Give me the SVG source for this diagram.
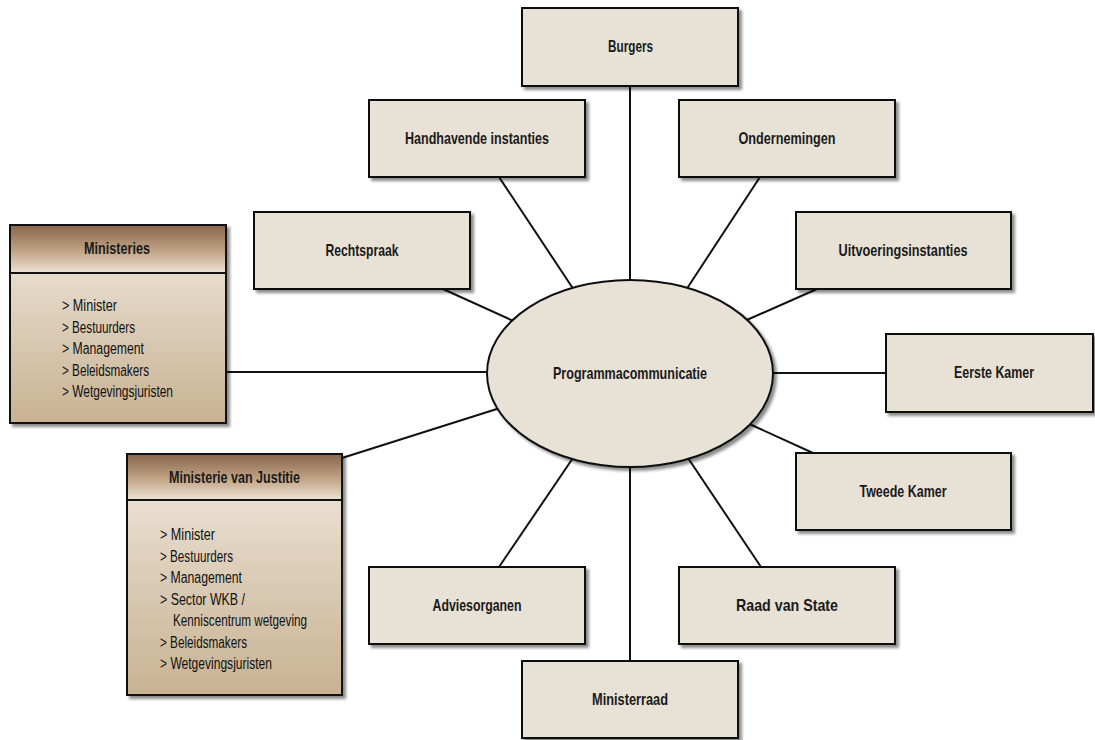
<svg xmlns="http://www.w3.org/2000/svg" width="1095" height="740" viewBox="0 0 1095 740">
<defs>
<filter id="sh" x="-10%" y="-10%" width="125%" height="130%">
<feDropShadow dx="3" dy="3" stdDeviation="1.8" flood-color="#000" flood-opacity="0.45"/>
</filter>
<linearGradient id="hdr" x1="0" y1="0" x2="0" y2="1">
<stop offset="0" stop-color="#87654A"/>
<stop offset="0.55" stop-color="#C2A587"/>
<stop offset="1" stop-color="#EEE3D4"/>
</linearGradient>
<linearGradient id="body" x1="0" y1="0" x2="0" y2="1">
<stop offset="0" stop-color="#F0EAE1"/>
<stop offset="0.35" stop-color="#E2D5C3"/>
<stop offset="1" stop-color="#C8B292"/>
</linearGradient>
</defs>
<style>
.box{fill:#E8E1D6;stroke:#111;stroke-width:2;filter:url(#sh)}
.ell{fill:#E8E1D6;stroke:#111;stroke-width:2;filter:url(#sh)}
.ln{stroke:#111;stroke-width:2;fill:none}
.lbl{font-family:"Liberation Sans",Arial,sans-serif;font-weight:bold;font-size:17px;fill:#1a1a1a;text-anchor:middle}
.item{font-family:"Liberation Sans",Arial,sans-serif;font-size:16px;fill:#111}
.sep{stroke:#111;stroke-width:2}
</style>
<rect width="1095" height="740" fill="#fff"/>
<g id="connectors">
<line class="ln" x1="630" y1="86" x2="630" y2="290"/>
<line class="ln" x1="499" y1="177" x2="574" y2="290"/>
<line class="ln" x1="760" y1="177" x2="686" y2="290"/>
<line class="ln" x1="443" y1="289" x2="520" y2="324"/>
<line class="ln" x1="817" y1="289" x2="740" y2="323"/>
<line class="ln" x1="765" y1="373" x2="886" y2="373"/>
<line class="ln" x1="745" y1="422" x2="813" y2="453"/>
<line class="ln" x1="686" y1="455" x2="761" y2="567"/>
<line class="ln" x1="630" y1="460" x2="630" y2="661"/>
<line class="ln" x1="575" y1="455" x2="499" y2="567"/>
<line class="ln" x1="500" y1="408" x2="342" y2="458"/>
<line class="ln" x1="226" y1="372" x2="495" y2="372"/>
</g>
<g id="center">
<ellipse class="ell" cx="630" cy="373.5" rx="143" ry="93.5"/>
<text class="lbl" x="630" y="379" textLength="154" lengthAdjust="spacingAndGlyphs">Programmacommunicatie</text>
</g>
<g id="burgers">
<rect class="box" x="522" y="8" width="216" height="78"/>
<text class="lbl" x="630.5" y="52" textLength="45" lengthAdjust="spacingAndGlyphs">Burgers</text>
</g>
<g id="handhavende">
<rect class="box" x="369" y="100" width="216" height="77"/>
<text class="lbl" x="477" y="144" textLength="144" lengthAdjust="spacingAndGlyphs">Handhavende instanties</text>
</g>
<g id="ondernemingen">
<rect class="box" x="679" y="100" width="216" height="77"/>
<text class="lbl" x="787" y="144" textLength="97" lengthAdjust="spacingAndGlyphs">Ondernemingen</text>
</g>
<g id="rechtspraak">
<rect class="box" x="254" y="212" width="216" height="77"/>
<text class="lbl" x="362" y="256" textLength="73" lengthAdjust="spacingAndGlyphs">Rechtspraak</text>
</g>
<g id="uitvoeringsinstanties">
<rect class="box" x="796" y="212" width="215" height="77"/>
<text class="lbl" x="903" y="256" textLength="129" lengthAdjust="spacingAndGlyphs">Uitvoeringsinstanties</text>
</g>
<g id="eerste-kamer">
<rect class="box" x="886" y="334" width="207" height="78"/>
<text class="lbl" x="994" y="378" textLength="80" lengthAdjust="spacingAndGlyphs">Eerste Kamer</text>
</g>
<g id="tweede-kamer">
<rect class="box" x="796" y="453" width="215" height="77"/>
<text class="lbl" x="903" y="497" textLength="87" lengthAdjust="spacingAndGlyphs">Tweede Kamer</text>
</g>
<g id="raad-van-state">
<rect class="box" x="679" y="567" width="216" height="77"/>
<text class="lbl" x="787" y="611" textLength="102" lengthAdjust="spacingAndGlyphs">Raad van State</text>
</g>
<g id="adviesorganen">
<rect class="box" x="369" y="567" width="216" height="77"/>
<text class="lbl" x="477" y="611" textLength="89" lengthAdjust="spacingAndGlyphs">Adviesorganen</text>
</g>
<g id="ministerraad">
<rect class="box" x="522" y="661" width="216" height="77"/>
<text class="lbl" x="630" y="705" textLength="76" lengthAdjust="spacingAndGlyphs">Ministerraad</text>
</g>
<g id="ministeries">
<rect x="10" y="225" width="216" height="198" fill="url(#body)" stroke="#111" stroke-width="2" filter="url(#sh)"/>
<rect x="10" y="225" width="216" height="48" fill="url(#hdr)"/>
<rect x="10" y="225" width="216" height="198" fill="none" stroke="#111" stroke-width="2"/>
<line class="sep" x1="10" y1="273" x2="226" y2="273"/>
<text class="lbl" x="117" y="254" textLength="66" lengthAdjust="spacingAndGlyphs">Ministeries</text>
<text class="item" x="62" y="311" textLength="55" lengthAdjust="spacingAndGlyphs">&gt; Minister</text>
<text class="item" x="62" y="332.5" textLength="73" lengthAdjust="spacingAndGlyphs">&gt; Bestuurders</text>
<text class="item" x="62" y="354" textLength="82" lengthAdjust="spacingAndGlyphs">&gt; Management</text>
<text class="item" x="62" y="375.5" textLength="87" lengthAdjust="spacingAndGlyphs">&gt; Beleidsmakers</text>
<text class="item" x="62" y="397" textLength="111" lengthAdjust="spacingAndGlyphs">&gt; Wetgevingsjuristen</text>
</g>
<g id="ministerie-van-justitie">
<rect x="127" y="454" width="215" height="241" fill="url(#body)" stroke="#111" stroke-width="2" filter="url(#sh)"/>
<rect x="127" y="454" width="215" height="46" fill="url(#hdr)"/>
<rect x="127" y="454" width="215" height="241" fill="none" stroke="#111" stroke-width="2"/>
<line class="sep" x1="127" y1="500" x2="342" y2="500"/>
<text class="lbl" x="234.5" y="483" textLength="131" lengthAdjust="spacingAndGlyphs">Ministerie van Justitie</text>
<text class="item" x="160" y="540" textLength="55" lengthAdjust="spacingAndGlyphs">&gt; Minister</text>
<text class="item" x="160" y="561.5" textLength="73" lengthAdjust="spacingAndGlyphs">&gt; Bestuurders</text>
<text class="item" x="160" y="583" textLength="82" lengthAdjust="spacingAndGlyphs">&gt; Management</text>
<text class="item" x="160" y="604.5" textLength="85" lengthAdjust="spacingAndGlyphs">&gt; Sector WKB /</text>
<text class="item" x="173" y="626" textLength="134" lengthAdjust="spacingAndGlyphs">Kenniscentrum wetgeving</text>
<text class="item" x="160" y="647.5" textLength="87" lengthAdjust="spacingAndGlyphs">&gt; Beleidsmakers</text>
<text class="item" x="160" y="669" textLength="112" lengthAdjust="spacingAndGlyphs">&gt; Wetgevingsjuristen</text>
</g>
</svg>
